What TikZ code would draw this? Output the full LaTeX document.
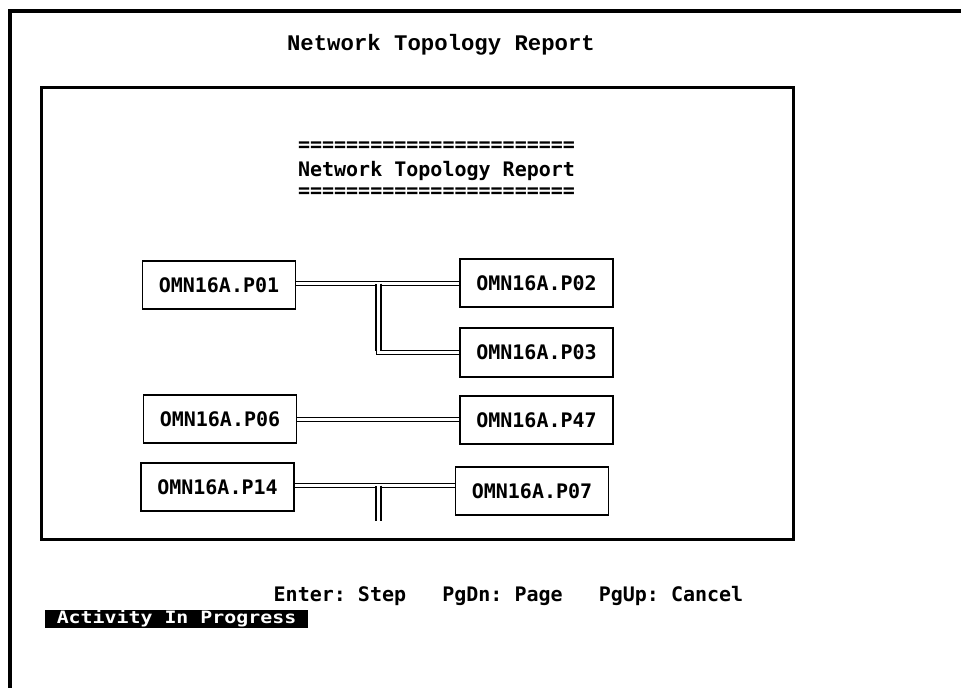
\documentclass[tikz,border=0pt]{standalone}
\usepackage{fontspec}
\usetikzlibrary{backgrounds}
\newfontfamily\termfont{DejaVu Sans Mono}
\newfontfamily\statusfont{DejaVu Sans Mono}[FakeStretch=1.17]
\newfontfamily\slabfont{Liberation Mono}
\frenchspacing

\tikzset{
  termtext/.style={font=\fontsize{20}{20}\selectfont\termfont\bfseries, inner sep=0pt},
  host/.style={termtext, draw=black, line width=1.5pt, fill=white,
    minimum width=153pt, minimum height=48pt},
  wire/.style={draw=black, line width=1pt, double=white, double distance=3pt},
  riser/.style={draw=black, line width=2pt, double=white, double distance=3pt},
  frameline/.style={draw=black, line width=4pt},
  panel/.style={draw=black, line width=3pt},
}

\begin{document}
\begin{tikzpicture}[x=1pt, y=-1pt]
\useasboundingbox (0,0) rectangle (961,688);

% screen frame (top and left edges)
\draw[frameline] (961,11) -- (10,11) -- (10,688);

% window title
\node[anchor=base, inner sep=0pt,
      font=\fontsize{22.3}{22.3}\selectfont\slabfont\bfseries] (title) at (441,50)
  {Network Topology Report};

% report panel
\draw[panel] (41,87.5) rectangle (793.5,539);

\node[termtext, anchor=base] (rule1) at (436.5,151) {=======================};
\node[termtext, anchor=base] (heading) at (436.5,176) {Network Topology Report};
\node[termtext, anchor=base] (rule2) at (436.5,197) {=======================};

% hosts
\node[host] (P01) at (219,285) {OMN16A.P01};
\node[host] (P02) at (536.5,283) {OMN16A.P02};
\node[host, minimum height=49pt] (P03) at (536.5,352.5) {OMN16A.P03};
\node[host] (P06) at (220,419) {OMN16A.P06};
\node[host] (P47) at (536.5,420) {OMN16A.P47};
\node[host] (P14) at (217.5,487) {OMN16A.P14};
\node[host] (P07) at (532,491) {OMN16A.P07};

% links (behind the host boxes)
\coordinate (j1) at (378,283);
\coordinate (c1) at (j1 |- P03.west);
\coordinate (j2) at (378,485);
\coordinate (j2end) at (378,521);
\begin{scope}[on background layer]
  \draw[wire] (P02.west -| P01.east) -- (P02.west) (j1) |- (P03.west);
  \draw[wire] (P06.east) -- (P06.east -| P47.west);
  \draw[wire] ([yshift=2pt]P14.east) -- ([yshift=2pt]P14.east -| P07.west);
  % heavier vertical risers
  \draw[riser] ([yshift=-0.5pt]j1) -- ([yshift=1.5pt]c1);
  \draw[riser] ([yshift=-0.5pt]j2) -- (j2end);
\end{scope}

% key help and status line
\node[termtext, anchor=base west] (keys) at (273.5,601)
  {Enter: Step\ \ \ PgDn: Page\ \ \ PgUp: Cancel};
\node[inner sep=0pt, font=\fontsize{17}{17}\selectfont\statusfont\bfseries,
      fill=black, text=white, minimum width=263pt, minimum height=18pt,
      text height=12.5pt, text depth=3.5pt] (status) at (176.5,619)
  {Activity In Progress};
\end{tikzpicture}
\end{document}
